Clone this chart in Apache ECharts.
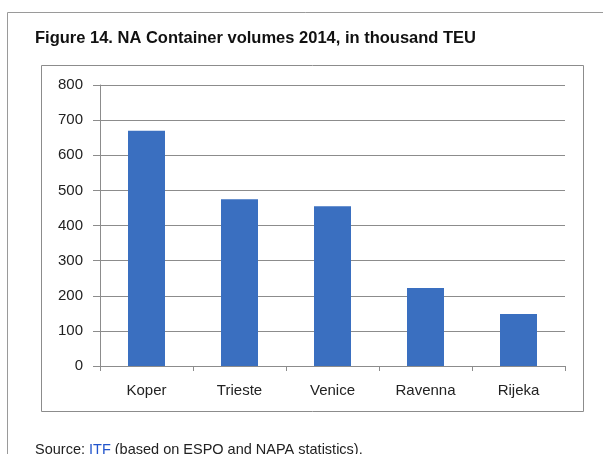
<!DOCTYPE html>
<html>
<head>
<meta charset="utf-8">
<script src="https://cdn.jsdelivr.net/npm/echarts@6/dist/echarts.min.js"></script>
<style>
  html, body { margin: 0; padding: 0; background: #fff; }
  #chart { width: 603px; height: 454px; }
</style>
</head>
<body>
<div id="chart"></div>
<script>
// ports and volumes (thousand TEU)
const ports = ["Koper", "Trieste", "Venice", "Ravenna", "Rijeka"];
const volumes = [670, 475, 455, 222, 148];
const yTicks = [0, 100, 200, 300, 400, 500, 600, 700, 800];

const chart = echarts.init(document.getElementById("chart"));

const option = {
  backgroundColor: "#fff",
  animation: false,
  grid: { left: 100, right: 38, top: 85, bottom: 88 },
  xAxis: {
    type: "category",
    data: ports,
    axisLine: { lineStyle: { color: "#8c8c8c", width: 1 } },
    axisTick: { show: true, length: 5, lineStyle: { color: "#8c8c8c" } },
    axisLabel: {
      color: "#222",
      fontFamily: "Liberation Sans",
      fontSize: 15,
      margin: 17
    }
  },
  yAxis: {
    type: "value",
    min: yTicks[0],
    max: yTicks[yTicks.length - 1],
    interval: 100,
    axisLine: { show: true, lineStyle: { color: "#8c8c8c", width: 1 } },
    axisTick: { show: true, length: 7, lineStyle: { color: "#8c8c8c" } },
    axisLabel: {
      color: "#222",
      fontFamily: "Liberation Sans",
      fontSize: 15,
      margin: 17
    },
    splitLine: { lineStyle: { color: "#8c8c8c", width: 1 } }
  },
  series: [
    {
      type: "bar",
      data: volumes,
      barWidth: 37,
      itemStyle: { color: "#3a6fc0" }
    }
  ],
  graphic: [
    // outer frame (top and left edges)
    {
      type: "polyline",
      shape: { points: [[7.5, 454], [7.5, 12.5], [603, 12.5]] },
      style: { stroke: "#9a9a9a", lineWidth: 1, fill: null }
    },
    // inner chart box
    {
      type: "rect",
      shape: { x: 41.5, y: 65.5, width: 542, height: 346 },
      style: { stroke: "#8c8c8c", lineWidth: 1, fill: null }
    },
    {
      type: "text",
      left: 35,
      top: 30,
      style: {
        text: "Figure 14. NA Container volumes 2014, in thousand TEU",
        fill: "#111",
        font: "bold 16.5px 'Liberation Sans'"
      }
    },
    {
      type: "text",
      left: 35,
      top: 442,
      style: {
        text: "{a|Source: }{b|ITF}{a| (based on ESPO and NAPA statistics).}",
        rich: {
          a: { fill: "#222", font: "14.5px 'Liberation Sans'" },
          b: { fill: "#2255cc", font: "14.5px 'Liberation Sans'" }
        }
      }
    }
  ]
};

chart.setOption(option);
</script>
</body>
</html>
